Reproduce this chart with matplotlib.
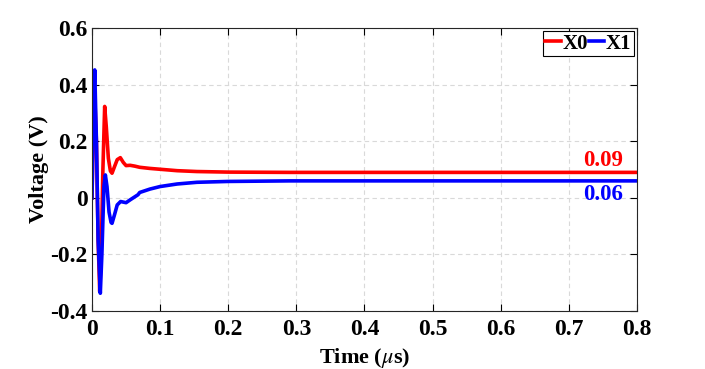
import matplotlib.pyplot as plt

plt.rcParams['font.family'] = ['Liberation Serif', 'DejaVu Serif']
plt.rcParams['mathtext.fontset'] = 'stix'

# time in microseconds
t_x0 = [0, 0.002, 0.004, 0.0065, 0.009, 0.0113, 0.0135, 0.016, 0.0186, 0.021, 0.024, 0.027, 0.0294,
        0.033, 0.037, 0.0416, 0.046, 0.05, 0.056, 0.063, 0.07, 0.085, 0.1, 0.125, 0.154, 0.2, 0.29, 0.5, 0.8]
v_x0 = [0, 0.25, 0.36, 0.2, -0.15, -0.331, -0.2, 0.1, 0.323, 0.25, 0.14, 0.095, 0.087,
        0.11, 0.135, 0.142, 0.125, 0.114, 0.115, 0.112, 0.108, 0.104, 0.101, 0.096, 0.093, 0.091, 0.09, 0.09, 0.09]

t_x1 = [0, 0.002, 0.004, 0.0065, 0.009, 0.0122, 0.0145, 0.0175, 0.0196, 0.022, 0.025, 0.028, 0.0294,
        0.033, 0.037, 0.042, 0.046, 0.05, 0.056, 0.0675, 0.07, 0.085, 0.1, 0.125, 0.154, 0.2, 0.29, 0.5, 0.8]
v_x1 = [0, 0.3, 0.452, 0.2, -0.15, -0.337, -0.2, 0.04, 0.081, 0.04, -0.05, -0.087, -0.09,
        -0.06, -0.025, -0.013, -0.015, -0.017, -0.007, 0.011, 0.019, 0.031, 0.04, 0.049, 0.055, 0.058, 0.06, 0.06, 0.06]

fig = plt.figure(figsize=(7.05, 3.69), dpi=100)
ax = fig.add_axes([0.1305, 0.157, 0.773, 0.767])

ax.plot(t_x0, v_x0, color='#ff0000', lw=2.6, label='X0')
ax.plot(t_x1, v_x1, color='#0000ff', lw=2.6, label='X1')

ax.set_xlim(0, 0.8)
ax.set_ylim(-0.4, 0.6)
ax.set_xticks([0, 0.1, 0.2, 0.3, 0.4, 0.5, 0.6, 0.7, 0.8])
ax.set_xticklabels(['0', '0.1', '0.2', '0.3', '0.4', '0.5', '0.6', '0.7', '0.8'])
ax.set_yticks([-0.4, -0.2, 0, 0.2, 0.4, 0.6])
ax.set_yticklabels(['-0.4', '-0.2', '0', '0.2', '0.4', '0.6'])
ax.grid(True, ls=(0, (4, 3)), color='#d9d9d9', lw=0.8)
ax.tick_params(direction='in', top=True, right=True, labelsize=17, length=5, width=0.8, pad=3)
ax.tick_params(axis='x', pad=6)
for lab in ax.get_xticklabels() + ax.get_yticklabels():
    lab.set_fontweight('bold')
for s in ax.spines.values():
    s.set_linewidth(0.8)
    s.set_color('#262626')

ax.set_xlabel(r'Time ($\mu$s)', fontsize=16, fontweight='bold', labelpad=4)
ax.set_ylabel('Voltage (V)', fontsize=16, fontweight='bold', labelpad=1)

ax.text(0.78, 0.113, '0.09', color='#ff0000', fontsize=16.5, fontweight='bold', ha='right', va='baseline')
ax.text(0.78, -0.007, '0.06', color='#0000ff', fontsize=16.5, fontweight='bold', ha='right', va='baseline')

leg = ax.legend(loc='upper right', ncol=2, prop={'weight': 'bold', 'size': 15},
                handlelength=0.75, handletextpad=0.08, columnspacing=0.03, borderpad=0.12,
                fancybox=False, framealpha=1, edgecolor='black', borderaxespad=0.15)
leg.get_frame().set_linewidth(0.8)

fig.savefig('out.png', dpi=100)
